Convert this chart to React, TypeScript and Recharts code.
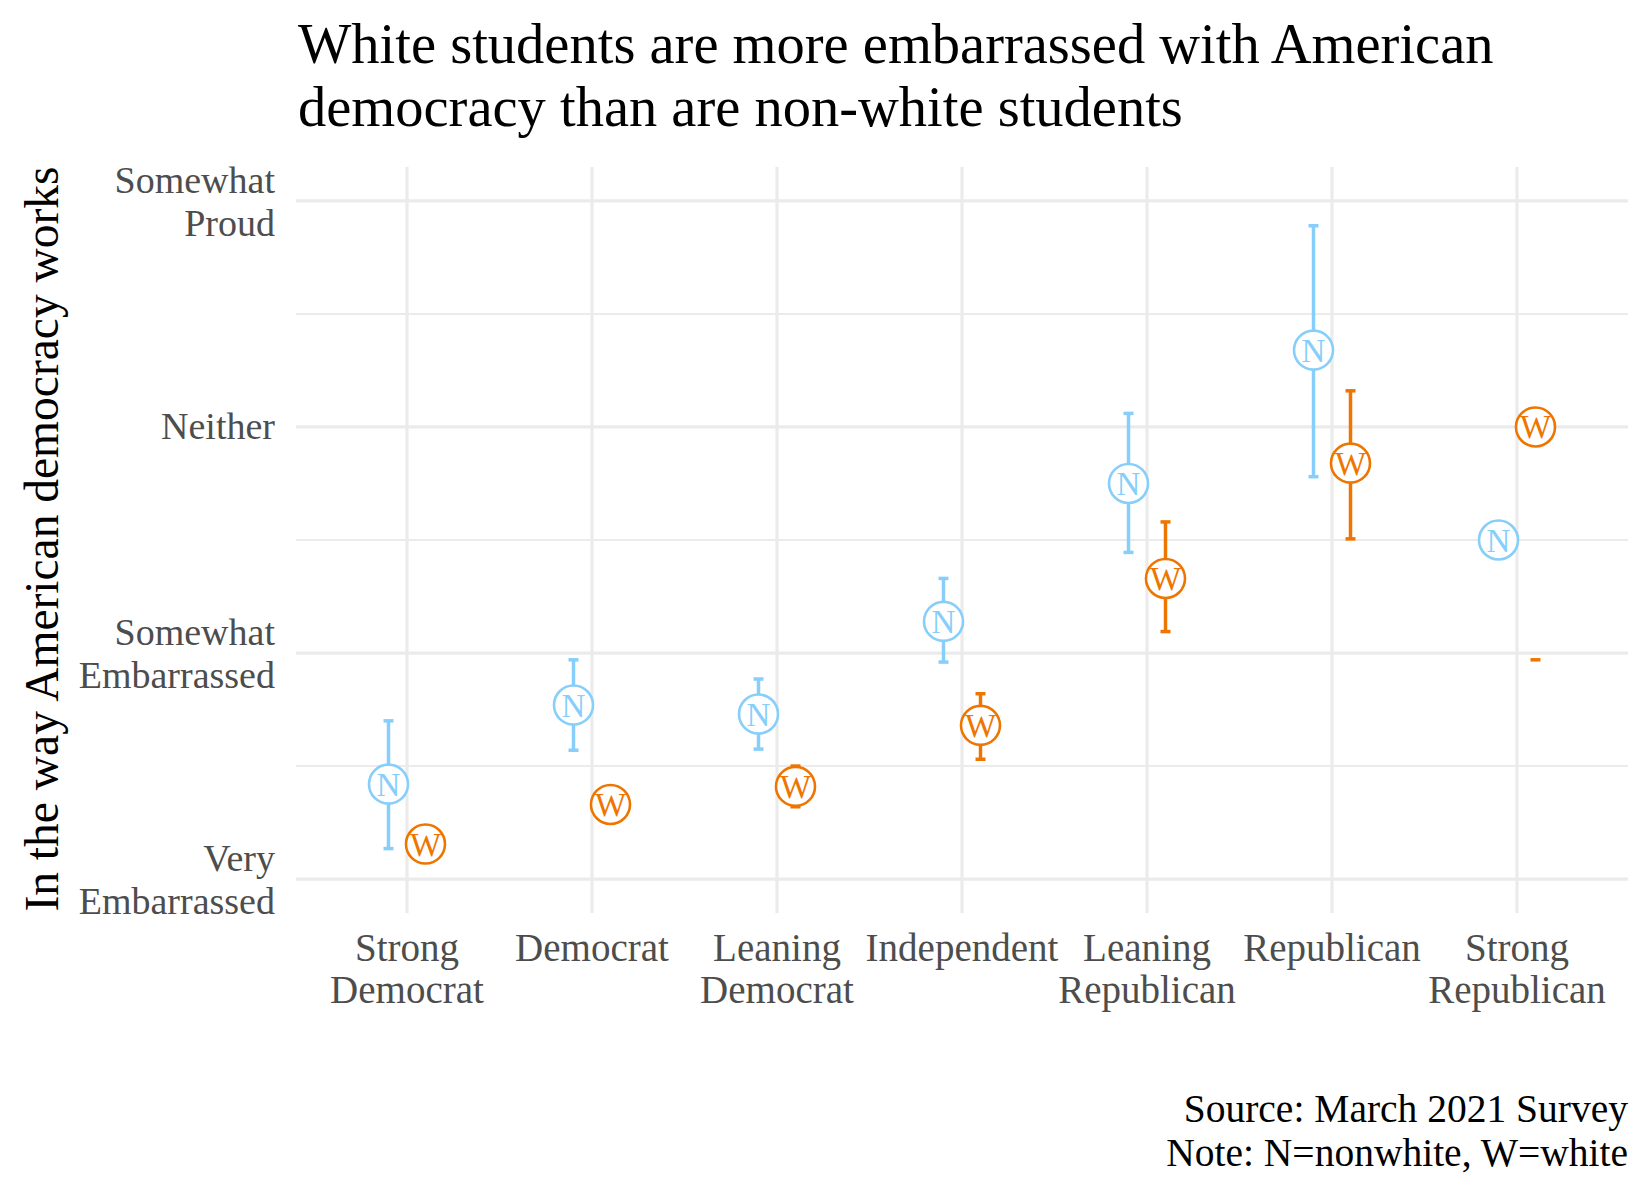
import React from "react";
import {
  ScatterChart,
  Scatter,
  XAxis,
  YAxis,
  ReferenceLine,
  ErrorBar,
} from "recharts";

// party id categories, x = 1..7
const partyPositions = [1, 2, 3, 4, 5, 6, 7];
const partyLabels = [
  ["Strong", "Democrat"],
  ["Democrat"],
  ["Leaning", "Democrat"],
  ["Independent"],
  ["Leaning", "Republican"],
  ["Republican"],
  ["Strong", "Republican"],
];

// response scale
const levelValues = [1, 2, 3, 4];
const levelLabels = [
  ["Very", "Embarrassed"],
  ["Somewhat", "Embarrassed"],
  ["Neither"],
  ["Somewhat", "Proud"],
];
const minorLevels = [1.5, 2.5, 3.5];

// nonwhite students (N)
const nonwhiteMean = [1.42, 1.77, 1.73, 2.14, 2.75, 3.34, 2.5];
const nonwhiteLow = [1.135, 1.57, 1.575, 1.96, 2.445, 2.78, null];
const nonwhiteHigh = [1.7, 1.97, 1.885, 2.33, 3.06, 3.89, null];

// white students (W)
const whiteMean = [1.155, 1.33, 1.41, 1.68, 2.33, 2.84, 3.0];
const whiteLow = [null, null, 1.32, 1.53, 2.095, 2.505, 1.97];
const whiteHigh = [null, null, 1.5, 1.82, 2.58, 3.16, null];

const DODGE = 0.1;
const BLUE = "#87cefa";
const ORANGE = "#ee7600";
const GRID = "#ebebeb";
const FONT = "'Liberation Serif', 'DejaVu Serif', serif";

type Num = number | null;

function buildRows(mean: number[], low: Num[], high: Num[], shift: number) {
  return mean.map((m, i) => {
    const lo = low[i];
    const hi = high[i];
    return {
      x: partyPositions[i] + shift,
      y: m,
      err: lo != null && hi != null ? [m - lo, hi - m] : [0, 0],
    };
  });
}

// lower whisker caps whose upper end fell outside the scale
function buildCaps(low: Num[], high: Num[], shift: number) {
  return low
    .map((lo, i) => (lo != null && high[i] == null ? { x: partyPositions[i] + shift, y: lo } : null))
    .filter(Boolean);
}

const nonwhiteRows = buildRows(nonwhiteMean, nonwhiteLow, nonwhiteHigh, -DODGE);
const whiteRows = buildRows(whiteMean, whiteLow, whiteHigh, DODGE);
const whiteCaps = buildCaps(whiteLow, whiteHigh, DODGE);

function letterShape(letter: string, color: string) {
  return (props: any) => {
    const { cx, cy } = props;
    return (
      <g>
        <circle cx={cx} cy={cy} r={19.5} fill="#fff" stroke={color} strokeWidth={2.6} />
        <text
          x={cx}
          y={cy + 11.5}
          textAnchor="middle"
          fontFamily={FONT}
          fontSize={33}
          fill={color}
        >
          {letter}
        </text>
      </g>
    );
  };
}

function capShape(props: any) {
  const { cx, cy } = props;
  return <line x1={cx - 5} x2={cx + 5} y1={cy} y2={cy} stroke={ORANGE} strokeWidth={3.5} />;
}

function XTick(props: any) {
  const { x, y, payload } = props;
  const idx = partyPositions.indexOf(payload.value);
  const lines = idx >= 0 ? partyLabels[idx] : [];
  return (
    <text textAnchor="middle" fontFamily={FONT} fontSize={39} fill="#4d4d4d">
      {lines.map((l, i) => (
        <tspan key={i} x={x} y={y + 48 + i * 42}>
          {l}
        </tspan>
      ))}
    </text>
  );
}

function YTick(props: any) {
  const { x, y, payload } = props;
  const idx = levelValues.indexOf(payload.value);
  const lines = idx >= 0 ? levelLabels[idx] : [];
  const start = lines.length > 1 ? y - 8 : y + 12;
  return (
    <text textAnchor="end" fontFamily={FONT} fontSize={38} fill="#4d4d4d">
      {lines.map((l, i) => (
        <tspan key={i} x={x} y={start + i * 43}>
          {l}
        </tspan>
      ))}
    </text>
  );
}

export default function App() {
  return (
    <div style={{ position: "relative", width: 1650, height: 1200, background: "#fff" }}>
      <style>{`body{margin:0}`}</style>
      <ScatterChart
        width={1650}
        height={1200}
        margin={{ top: 167, right: 22, left: 26, bottom: 187 }}
      >
        {levelValues.map((v) => (
          <ReferenceLine key={"h" + v} y={v} stroke={GRID} strokeWidth={3.2} />
        ))}
        {minorLevels.map((v) => (
          <ReferenceLine key={"m" + v} y={v} stroke={GRID} strokeWidth={2} />
        ))}
        {partyPositions.map((p) => (
          <ReferenceLine key={"v" + p} x={p} stroke={GRID} strokeWidth={3.2} />
        ))}
        <XAxis
          type="number"
          dataKey="x"
          domain={[0.4, 7.6]}
          ticks={partyPositions}
          axisLine={false}
          tickLine={false}
          tickSize={0}
          tickMargin={0}
          height={100}
          interval={0}
          tick={<XTick />}
          allowDataOverflow
        />
        <YAxis
          type="number"
          dataKey="y"
          domain={[0.85, 4.15]}
          ticks={levelValues}
          axisLine={false}
          tickLine={false}
          tickSize={0}
          tickMargin={21}
          width={270}
          interval={0}
          tick={<YTick />}
          allowDataOverflow
        />
        <Scatter data={whiteCaps} shape={capShape} isAnimationActive={false} />
        <Scatter data={nonwhiteRows} shape={letterShape("N", BLUE)} isAnimationActive={false}>
          <ErrorBar dataKey="err" direction="y" width={5} stroke={BLUE} strokeWidth={3.5} />
        </Scatter>
        <Scatter data={whiteRows} shape={letterShape("W", ORANGE)} isAnimationActive={false}>
          <ErrorBar dataKey="err" direction="y" width={5} stroke={ORANGE} strokeWidth={3.5} />
        </Scatter>
      </ScatterChart>
      <svg
        width={1650}
        height={1200}
        style={{ position: "absolute", left: 0, top: 0, pointerEvents: "none" }}
      >
        <text fontFamily={FONT} fontSize={56.5} fill="#000">
          <tspan x={298} y={63}>White students are more embarrassed with American</tspan>
          <tspan x={298} y={126}>democracy than are non-white students</tspan>
        </text>
        <text
          transform="translate(58, 539) rotate(-90)"
          textAnchor="middle"
          fontFamily={FONT}
          fontSize={47.5}
          fill="#000"
        >
          In the way American democracy works
        </text>
        <text textAnchor="end" fontFamily={FONT} fontSize={39.5} fill="#000">
          <tspan x={1628} y={1122}>Source: March 2021 Survey</tspan>
          <tspan x={1628} y={1166}>Note: N=nonwhite, W=white</tspan>
        </text>
      </svg>
    </div>
  );
}
